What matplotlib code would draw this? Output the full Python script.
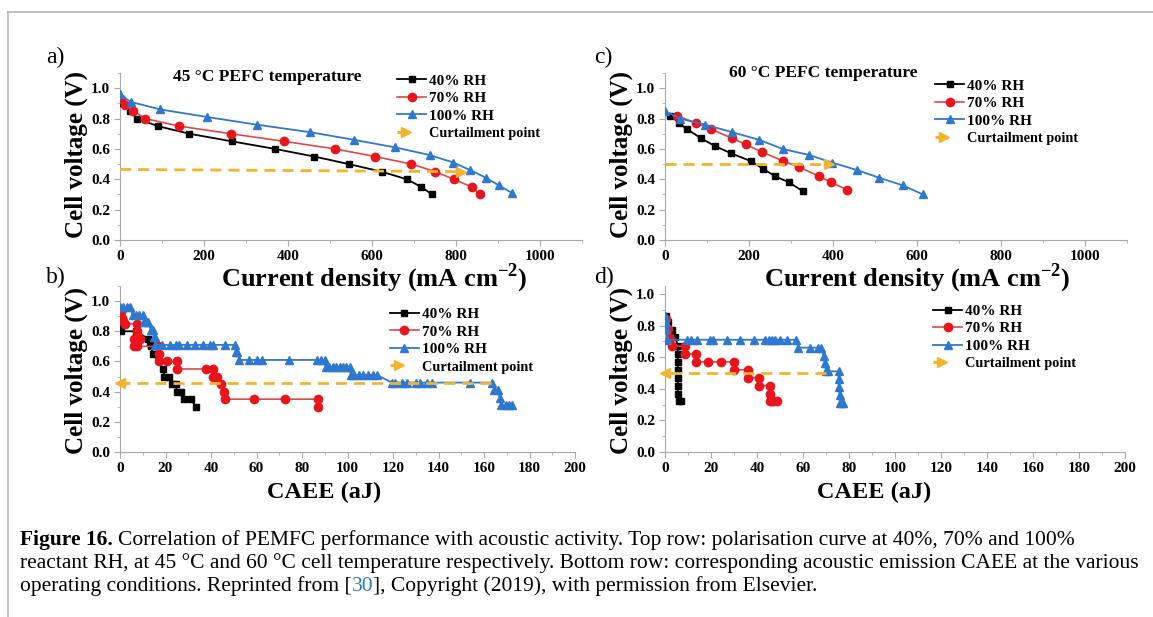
import numpy as np
import matplotlib
matplotlib.use('Agg')
import matplotlib.pyplot as plt
from matplotlib.lines import Line2D
from matplotlib.legend_handler import HandlerLine2D
from matplotlib.ticker import MultipleLocator

plt.rcParams['font.family'] = 'Liberation Serif'
plt.rcParams['font.weight'] = 'bold'
plt.rcParams['mathtext.fontset'] = 'custom'
plt.rcParams['mathtext.rm'] = 'Liberation Serif:bold'
plt.rcParams['mathtext.bf'] = 'Liberation Serif:bold'

# ---- a) 45 C polarisation curves
cd45_40 = [4, 24, 40, 90, 165, 266, 369, 462, 545, 623, 683, 717, 743]
v45_40 = [0.90, 0.85, 0.80, 0.75, 0.70, 0.65, 0.60, 0.55, 0.50, 0.45, 0.40, 0.35, 0.30]
cd45_70 = [2, 13, 32, 60, 141, 264, 390, 512, 607, 694, 751, 795, 837, 858]
v45_70 = [0.93, 0.89, 0.85, 0.80, 0.75, 0.70, 0.65, 0.60, 0.55, 0.50, 0.45, 0.40, 0.35, 0.30]
cd45_100 = [0, 25, 96, 208, 325, 453, 557, 655, 737, 794, 834, 871, 902, 933]
v45_100 = [0.96, 0.91, 0.86, 0.81, 0.76, 0.71, 0.66, 0.61, 0.56, 0.51, 0.46, 0.41, 0.36, 0.31]
curt45_x = [0, 811]
curt45_v = [0.465, 0.45]

# ---- c) 60 C polarisation curves
cd60_40 = [12, 34, 52, 86, 118, 158, 204, 233, 262, 295, 329]
v60_40 = [0.82, 0.77, 0.73, 0.67, 0.62, 0.57, 0.52, 0.47, 0.42, 0.38, 0.32]
cd60_70 = [28, 74, 110, 160, 192, 230, 282, 319, 367, 396, 434]
v60_70 = [0.82, 0.77, 0.73, 0.67, 0.63, 0.58, 0.52, 0.48, 0.42, 0.38, 0.33]
cd60_100 = [0, 35, 95, 160, 224, 280, 343, 398, 458, 510, 566, 614]
v60_100 = [0.85, 0.80, 0.76, 0.71, 0.66, 0.60, 0.56, 0.51, 0.46, 0.41, 0.36, 0.30]
curt60_x = [0, 390]
curt60_v = [0.50, 0.50]

# ---- b) 45 C CAEE
ae45_40 = [0.0, 0.3, 0.5, 7.0, 12.5, 13.0, 13.5, 14.5, 17.0, 19.0, 19.5, 21.5,
           23.0, 24.5, 25.0, 27.0, 28.0, 31.0, 33.5]
av45_40 = [0.90, 0.85, 0.80, 0.80, 0.75, 0.72, 0.70, 0.65, 0.60, 0.55, 0.50, 0.50,
           0.45, 0.45, 0.40, 0.40, 0.35, 0.35, 0.30]
ae45_70 = [0.5, 1.0, 1.5, 2.0, 7.5, 7.5, 8.0, 6.0, 9.0, 6.0, 7.5, 16.5, 17.0, 17.0,
           20.5, 25.0, 25.0, 38.0, 41.0, 41.0, 42.5, 44.5, 45.5, 46.0, 59.0, 72.5, 87.0, 87.0]
av45_70 = [0.93, 0.89, 0.87, 0.85, 0.85, 0.80, 0.77, 0.75, 0.75, 0.70, 0.70, 0.70, 0.65, 0.60,
           0.60, 0.60, 0.55, 0.55, 0.55, 0.50, 0.50, 0.45, 0.40, 0.35, 0.35, 0.35, 0.35, 0.30]
ae45_100 = [0, 1.5, 3, 4.5, 5.5, 7, 8.5, 10, 10.5, 11.5, 12.5, 13.5, 14, 14.5, 15, 15.5,
            15.5, 18.5, 22, 24.5, 26, 29.5, 33, 36.5, 39.5, 41, 46, 50.5, 51, 51.5,
            52.5, 56.5, 60, 62.5, 74.5, 86.5, 88.5, 90,
            90.5, 92, 93.5, 95, 96.5, 98, 99.5, 101,
            101.5, 103, 105, 107, 109, 111, 113,
            119.5, 121, 124, 126, 130, 132, 135, 137, 154, 163.5,
            164.5, 166, 167, 167.5, 169.5, 171, 172.5]
av45_100 = [0.96, 0.96, 0.96, 0.96, 0.91, 0.91, 0.91, 0.91, 0.86, 0.86, 0.86, 0.81, 0.81, 0.81, 0.76, 0.76,
            0.71, 0.71, 0.71, 0.71, 0.71, 0.71, 0.71, 0.71, 0.71, 0.71, 0.71, 0.71, 0.66, 0.66,
            0.61, 0.61, 0.61, 0.61, 0.61, 0.61, 0.61, 0.61,
            0.56, 0.56, 0.56, 0.56, 0.56, 0.56, 0.56, 0.56,
            0.51, 0.51, 0.51, 0.51, 0.51, 0.51, 0.51,
            0.46, 0.46, 0.46, 0.46, 0.46, 0.46, 0.46, 0.46, 0.46, 0.46,
            0.41, 0.41, 0.36, 0.31, 0.31, 0.31, 0.31]
acurt45_x = [163, 0]
acurt45_v = [0.455, 0.455]

# ---- d) 60 C CAEE
ae60_40 = [0.5, 1.5, 3.0, 4.5, 5.5, 5.5, 5.5, 5.5, 5.5, 5.5, 5.5, 6.0, 7.0]
av60_40 = [0.86, 0.82, 0.77, 0.73, 0.67, 0.62, 0.57, 0.52, 0.47, 0.42, 0.37, 0.32, 0.32]
ae60_70 = [0.5, 1.2, 2.0, 3.0, 8.5, 8.5, 13.5, 13.5, 18.5, 24.5, 30.0, 30.0, 36.0, 36.0,
           41.0, 41.0, 45.5, 45.5, 45.5, 46.5, 47.5, 48.5]
av60_70 = [0.84, 0.78, 0.72, 0.67, 0.67, 0.62, 0.62, 0.57, 0.57, 0.57, 0.57, 0.52, 0.52, 0.47,
           0.47, 0.42, 0.42, 0.37, 0.32, 0.32, 0.32, 0.32]
ae60_100 = [0.0, 0.3, 0.6, 1.0, 9.5, 11.5, 14.0, 19.5, 21.0, 27.0, 32.5, 38.5, 43.5, 45.0,
            46.5, 48.0, 50.0, 53.0, 57.0, 58.0, 63.0, 66.5, 68.0, 69.0, 69.5, 70.0, 71.0,
            75.5, 75.5, 75.5, 76.0, 76.0, 77.0, 77.5]
av60_100 = [0.86, 0.82, 0.78, 0.71, 0.71, 0.71, 0.71, 0.71, 0.71, 0.71, 0.71, 0.71, 0.71, 0.71,
            0.71, 0.71, 0.71, 0.71, 0.71, 0.66, 0.66, 0.66, 0.66, 0.61, 0.56, 0.51, 0.51,
            0.51, 0.46, 0.41, 0.36, 0.31, 0.31, 0.31]
acurt60_x = [70, 0]
acurt60_v = [0.50, 0.50]

labels = ['40% RH', '70% RH', '100% RH', 'Curtailment point']
cd_ticks = [0, 200, 400, 600, 800, 1000]
ae_ticks = [0, 20, 40, 60, 80, 100, 120, 140, 160, 180, 200]
v_ticks = [0.0, 0.2, 0.4, 0.6, 0.8, 1.0]

RED = '#e8161c'
REDLINE = '#e04848'
BLUE = '#2f78d0'
GOLD = '#f3b42c'
GREY = '#a8a8a8'

W, H = 1153, 617
fig = plt.figure(figsize=(W / 100, H / 100), dpi=100)


def px_axes(l, t, r, b):
    return fig.add_axes([l / W, 1 - b / H, (r - l) / W, (b - t) / H])


class EndMarker(HandlerLine2D):
    def get_xdata(self, legend, xdescent, ydescent, width, height, fontsize):
        return ([-xdescent, -xdescent + 0.62 * width], [-xdescent + 0.85 * width])


def draw_panel(ax, series, curt, arrow, xmax, xticks, xmin, ymax, leg_xy, title=None):
    (x40, y40), (x70, y70), (x100, y100) = series
    ax.plot(x40, y40, color='k', lw=1.3, marker='s', ms=5, zorder=3)
    ax.plot(x70, y70, color=REDLINE, lw=1.2, marker='o', ms=6, mfc=RED, mec=RED, zorder=3)
    ax.plot(x100, y100, color=BLUE, lw=1.3, marker='^', ms=6, zorder=3)
    cx, cy = curt
    ax.plot(cx, cy, color=GOLD, lw=2, ls=(0, (4, 2.5)), zorder=4)
    ax.plot(cx[-1], cy[-1], color=GOLD, marker=arrow, ms=7, ls='none', zorder=4, clip_on=False)

    ax.set_xticks(xticks)
    ax.set_yticks(v_ticks)
    ax.xaxis.set_minor_locator(MultipleLocator(xmin))
    ax.yaxis.set_minor_locator(MultipleLocator(0.1))
    ax.yaxis.set_major_formatter(plt.FormatStrFormatter('%.1f'))
    ax.set_xlim(0, xmax)
    ax.set_ylim(0, ymax)
    for s in ['top', 'right']:
        ax.spines[s].set_visible(False)
    for s in ['left', 'bottom']:
        ax.spines[s].set_color(GREY)
    ax.tick_params(which='both', direction='out', color=GREY, labelsize=11, pad=3)
    ax.tick_params(which='major', length=4)
    ax.tick_params(which='minor', length=2.5)

    handles = [Line2D([], [], color='k', lw=1.3, marker='s', ms=5),
               Line2D([], [], color=REDLINE, lw=1.2, marker='o', ms=6, mfc=RED, mec=RED),
               Line2D([], [], color=BLUE, lw=1.3, marker='^', ms=6),
               Line2D([], [], color=GOLD, lw=2.2, ls=(0, (4, 2)), marker='>', ms=7)]
    leg = ax.legend(handles, labels, loc='upper left', bbox_to_anchor=leg_xy, frameon=False,
                    fontsize=11, handlelength=1.9, handletextpad=0.2, labelspacing=0.25,
                    borderpad=0, borderaxespad=0, numpoints=1,
                    handler_map={handles[3]: EndMarker()})
    leg.get_texts()[3].set_fontsize(10.3)
    if title:
        ax.text(title[0], title[1], title[2], transform=ax.transAxes, ha='center', va='center',
                fontsize=12.5)


ax_a = px_axes(120, 73, 582, 240)
draw_panel(ax_a, [(cd45_40, v45_40), (cd45_70, v45_70), (cd45_100, v45_100)],
           (curt45_x, curt45_v), '>', 1100, cd_ticks, 100, 1.1, (0.60, 0.995),
           (0.318, 0.976, '45 °C PEFC temperature'))
ax_c = px_axes(665, 73, 1127, 240)
draw_panel(ax_c, [(cd60_40, v60_40), (cd60_70, v60_70), (cd60_100, v60_100)],
           (curt60_x, curt60_v), '>', 1100, cd_ticks, 100, 1.1, (0.585, 0.965),
           (0.342, 1.0, '60 °C PEFC temperature'))
ax_b = px_axes(120, 286, 575, 452)
draw_panel(ax_b, [(ae45_40, av45_40), (ae45_70, av45_70), (ae45_100, av45_100)],
           (acurt45_x, acurt45_v), '<', 200, ae_ticks, 10, 1.1, (0.593, 0.87))
ax_d = px_axes(665, 286, 1125, 452)
draw_panel(ax_d, [(ae60_40, av60_40), (ae60_70, av60_70), (ae60_100, av60_100)],
           (acurt60_x, acurt60_v), '<', 200, ae_ticks, 10, 1.05, (0.583, 0.89))


def ftext(x, y, s, **kw):
    return fig.text(x / W, 1 - y / H, s, **kw)


# axis labels
for yc, xc in [(155, 76), (370, 76), (155, 621), (370, 621)]:
    ftext(xc, yc, 'Cell voltage (V)', rotation=90, ha='center', va='center', fontsize=18)
ftext(374, 286, 'Current density (mA cm$^{-2}$)', ha='center', va='baseline', fontsize=19)
ftext(917, 286, 'Current density (mA cm$^{-2}$)', ha='center', va='baseline', fontsize=19)
ftext(324, 498, 'CAEE (aJ)', ha='center', va='baseline', fontsize=17.5)
ftext(874, 498, 'CAEE (aJ)', ha='center', va='baseline', fontsize=17.5)

# panel letters
for x, y, s in [(46, 57, 'a)'), (46, 277, 'b)'), (594, 57, 'c)'), (594, 277, 'd)')]:
    ftext(x, y, s, ha='left', va='center', fontsize=17, fontweight='normal')

# border lines
fig.add_artist(Line2D([8 / W, 8 / W], [0, 1 - 12 / H], color='#b4b4b4', lw=1.2,
                      transform=fig.transFigure))
fig.add_artist(Line2D([8 / W, 1], [1 - 12 / H, 1 - 12 / H], color='#b4b4b4', lw=1.2,
                      transform=fig.transFigure))

# caption
cap_fs = 15.5
renderer = fig.canvas.get_renderer()
space = 0.25 * cap_fs * 100 / 72


def cap_line(pieces, x, y):
    for txt, kw in pieces:
        if txt.startswith(' '):
            x += space
            txt = txt[1:]
        t = fig.text(x / W, 1 - y / H, txt, ha='left', va='baseline', fontsize=cap_fs, **kw)
        bb = t.get_window_extent(renderer=renderer)
        x = bb.x1


norm = {'fontweight': 'normal'}
cap_line([('Figure 16.', {'fontweight': 'bold'}),
          (' Correlation of PEMFC performance with acoustic activity. Top row: polarisation curve at 40%, 70% and 100%', norm)],
         20, 545)
cap_line([('reactant RH, at 45 °C and 60 °C cell temperature respectively. Bottom row: corresponding acoustic emission CAEE at the various', norm)],
         20, 568)
cap_line([('operating conditions. Reprinted from [', norm), ('30', {'fontweight': 'normal', 'color': '#2b7bb9'}),
          ('], Copyright (2019), with permission from Elsevier.', norm)],
         20, 591)

fig.savefig('out.png', dpi=100)
